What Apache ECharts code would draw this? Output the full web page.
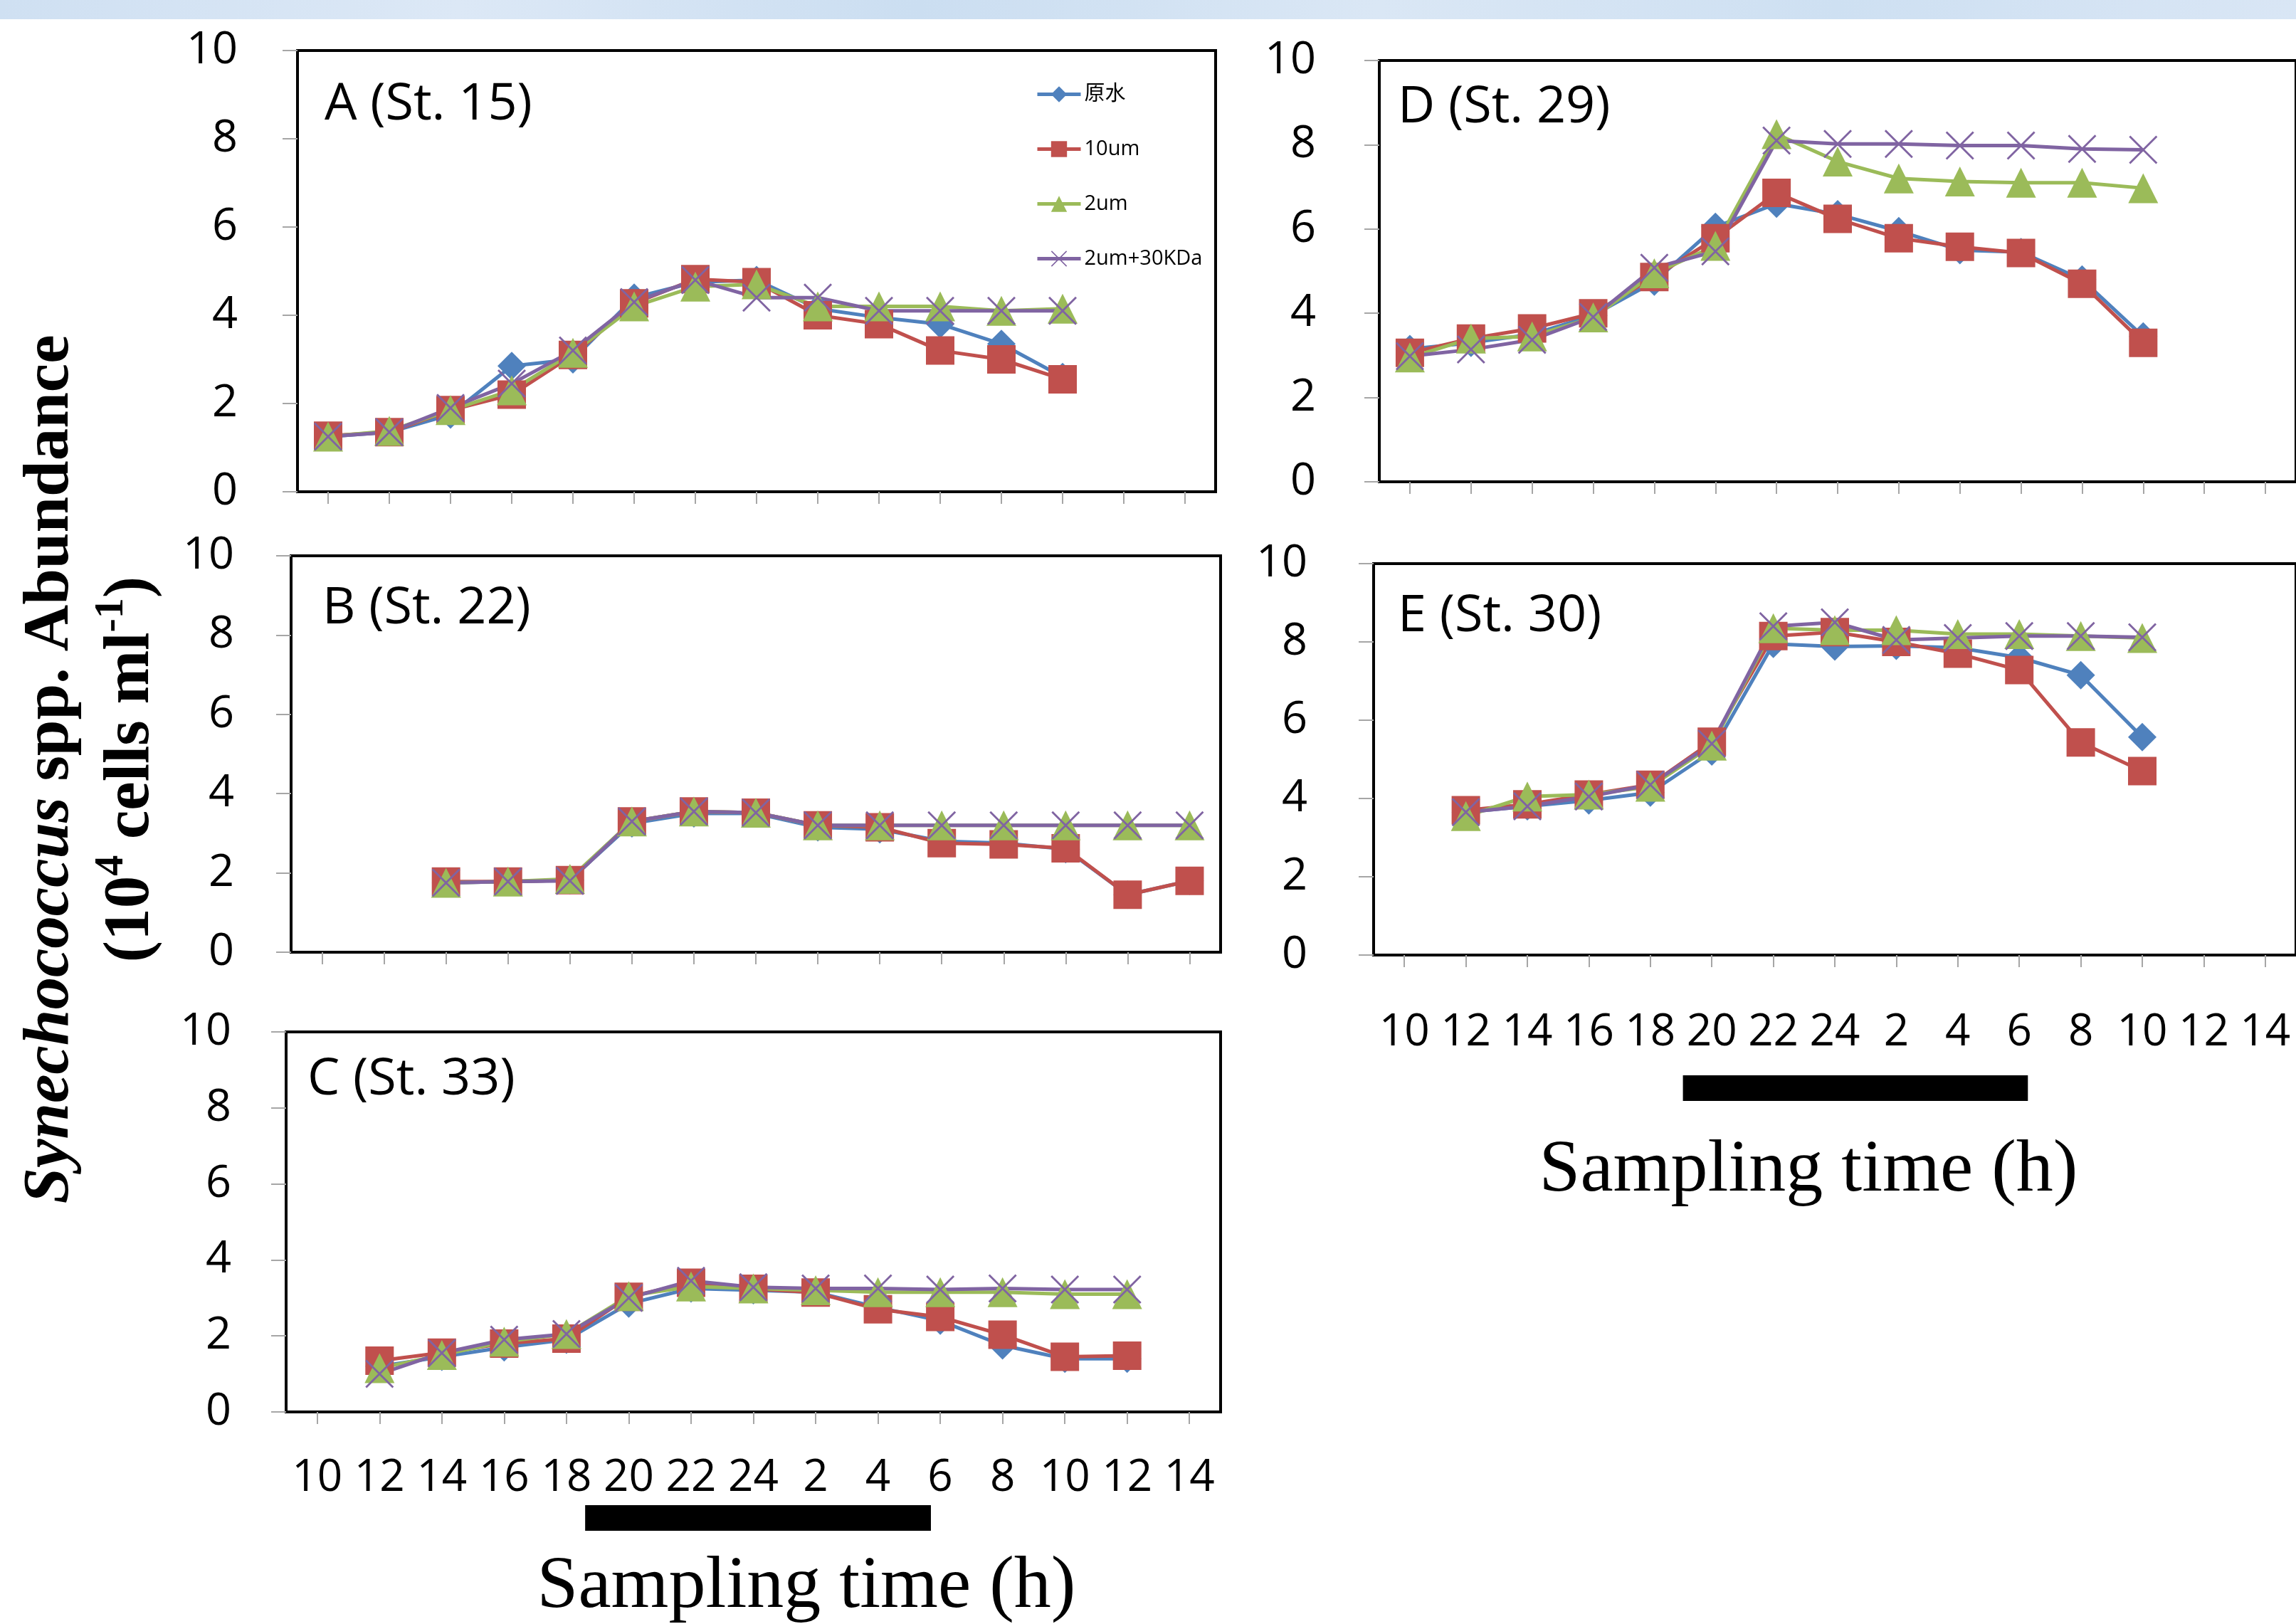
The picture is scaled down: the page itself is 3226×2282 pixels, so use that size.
<!DOCTYPE html>
<html>
<head>
<meta charset="utf-8">
<script src="https://cdn.jsdelivr.net/npm/echarts@6/dist/echarts.min.js"></script>
<style>
html, body { margin: 0; padding: 0; background: #fff; }
#main { width: 3226px; height: 2282px; }
</style>
</head>
<body>
<div id="main"></div>
<script>
// sampling time (h), one category per 2 h
const hours = ['10', '12', '14', '16', '18', '20', '22', '24', '2', '4', '6', '8', '10', '12', '14'];
const yTicks = [0, 2, 4, 6, 8, 10];
const seriesNames = ['原水', '10um', '2um', '2um+30KDa'];

// A (St. 15)
const aRaw = [1.25, 1.35, 1.75, 2.85, 3.0, 4.4, 4.75, 4.8, 4.15, 3.95, 3.8, 3.35, 2.6, null, null];
const a10 = [1.27, 1.35, 1.85, 2.2, 3.1, 4.27, 4.82, 4.75, 4.0, 3.8, 3.2, 3.0, 2.55, null, null];
const a2 = [1.25, 1.38, 1.85, 2.3, 3.15, 4.2, 4.65, 4.7, 4.2, 4.2, 4.2, 4.1, 4.15, null, null];
const a30 = [1.25, 1.35, 1.9, 2.45, 3.2, 4.3, 4.8, 4.4, 4.4, 4.1, 4.1, 4.1, 4.1, null, null];

// B (St. 22)
const bRaw = [null, null, 1.75, 1.78, 1.82, 3.25, 3.5, 3.5, 3.15, 3.1, 2.8, 2.75, 2.6, 1.45, 1.8];
const b10 = [null, null, 1.78, 1.78, 1.82, 3.3, 3.55, 3.52, 3.2, 3.15, 2.75, 2.72, 2.62, 1.45, 1.8];
const b2 = [null, null, 1.75, 1.78, 1.85, 3.3, 3.55, 3.52, 3.2, 3.2, 3.2, 3.2, 3.2, 3.2, 3.2];
const b30 = [null, null, 1.75, 1.78, 1.8, 3.3, 3.55, 3.52, 3.2, 3.2, 3.2, 3.2, 3.2, 3.2, 3.2];

// C (St. 33)
const cRaw = [null, 1.2, 1.45, 1.7, 1.9, 2.85, 3.25, 3.2, 3.15, 2.75, 2.4, 1.75, 1.4, 1.4, null];
const c10 = [null, 1.35, 1.56, 1.8, 1.93, 3.03, 3.4, 3.24, 3.14, 2.7, 2.5, 2.03, 1.45, 1.48, null];
const c2 = [null, 1.15, 1.5, 1.85, 2.05, 3.05, 3.3, 3.25, 3.2, 3.15, 3.15, 3.15, 3.1, 3.1, null];
const c30 = [null, 1.0, 1.55, 1.9, 2.05, 3.0, 3.45, 3.28, 3.25, 3.25, 3.22, 3.25, 3.22, 3.22, null];

// D (St. 29)
const dRaw = [3.15, 3.3, 3.5, 3.95, 4.75, 6.05, 6.6, 6.35, 5.95, 5.5, 5.45, 4.8, 3.45, null, null];
const d10 = [3.06, 3.4, 3.64, 4.0, 4.86, 5.78, 6.86, 6.24, 5.78, 5.58, 5.43, 4.7, 3.3, null, null];
const d2 = [2.95, 3.4, 3.45, 3.9, 4.95, 5.6, 8.25, 7.6, 7.2, 7.13, 7.1, 7.1, 6.97, null, null];
const d30 = [2.98, 3.14, 3.37, 3.91, 5.08, 5.47, 8.1, 8.02, 8.02, 7.98, 7.98, 7.9, 7.88, null, null];

// E (St. 30)
const eRaw = [null, 3.65, 3.8, 3.95, 4.15, 5.2, 7.95, 7.88, 7.9, 7.85, 7.6, 7.15, 5.57, null, null];
const e10 = [null, 3.7, 3.85, 4.1, 4.35, 5.45, 8.15, 8.25, 8.0, 7.7, 7.28, 5.43, 4.7, null, null];
const e2 = [null, 3.55, 4.05, 4.1, 4.3, 5.35, 8.35, 8.3, 8.3, 8.2, 8.2, 8.15, 8.1, null, null];
const e30 = [null, 3.65, 3.8, 4.05, 4.35, 5.4, 8.4, 8.5, 8.05, 8.1, 8.15, 8.15, 8.12, null, null];

// dark period bars, in category units
const nightC = [4.3, 9.85];
const nightE = [4.53, 10.14];

const sans = "'Open Sans', 'Noto Sans', 'Noto Sans CJK SC', sans-serif";
const serif = "'Liberation Serif', 'Times New Roman', serif";

const colors = ['#4F81BD', '#C0504D', '#9BBB59', '#8064A2'];
const symbols = ['diamond', 'rect', 'triangle', 'path://M0,2L2,0L40,38L38,40Z M38,0L40,2L2,40L0,38Z'];
const symbolSizes = [40, 40, 42, 40];

const panels = [
  { title: 'A (St. 15)', grid: { left: 418, top: 71, width: 1290, height: 620 }, yMargin: 84, xLabels: false, titleAt: [456, 147], data: [aRaw, a10, a2, a30] },
  { title: 'B (St. 22)', grid: { left: 409, top: 781, width: 1306, height: 557 }, yMargin: 80, xLabels: false, titleAt: [453, 855], data: [bRaw, b10, b2, b30] },
  { title: 'C (St. 33)', grid: { left: 402, top: 1450, width: 1313, height: 534 }, yMargin: 77, xLabels: true, xMargin: 62, titleAt: [432, 1517], data: [cRaw, c10, c2, c30] },
  { title: 'D (St. 29)', grid: { left: 1938, top: 85, width: 1292, height: 592 }, yMargin: 89, xLabels: false, titleAt: [1964, 151], data: [dRaw, d10, d2, d30] },
  { title: 'E (St. 30)', grid: { left: 1930, top: 792, width: 1305, height: 550 }, yMargin: 93, xLabels: true, xMargin: 78, titleAt: [1964, 866], data: [eRaw, e10, e2, e30] }
];

const chart = echarts.init(document.getElementById('main'), null, { width: 3226, height: 2282 });

const grids = panels.map(p => Object.assign({ show: true, borderColor: '#000', borderWidth: 4, backgroundColor: 'transparent' }, p.grid));

const xAxes = panels.map((p, i) => ({
  type: 'category',
  gridIndex: i,
  data: hours,
  boundaryGap: true,
  axisLine: { show: true, lineStyle: { color: '#000', width: 4 } },
  axisTick: { show: true, alignWithLabel: true, interval: 0, length: 17, lineStyle: { color: '#a6a6a6', width: 2 } },
  axisLabel: { show: p.xLabels, interval: 0, margin: p.xMargin || 8, fontSize: 62, color: '#000', fontFamily: sans },
  splitLine: { show: false }
}));

const yAxes = panels.map((p, i) => ({
  type: 'value',
  gridIndex: i,
  min: yTicks[0],
  max: yTicks[yTicks.length - 1],
  interval: yTicks[1] - yTicks[0],
  axisLine: { show: true, lineStyle: { color: '#000', width: 4 } },
  axisTick: { show: true, length: 21, lineStyle: { color: '#a6a6a6', width: 2 } },
  axisLabel: { margin: p.yMargin, fontSize: 63, color: '#000', fontFamily: sans },
  splitLine: { show: false }
}));

const series = [];
panels.forEach((p, i) => {
  p.data.forEach((vals, j) => {
    series.push({
      name: seriesNames[j],
      type: 'line',
      xAxisIndex: i,
      yAxisIndex: i,
      data: vals,
      symbol: symbols[j],
      symbolSize: symbolSizes[j],
      showAllSymbol: true,
      lineStyle: { color: colors[j], width: 5 },
      itemStyle: { color: colors[j] },
      emphasis: { disabled: true },
      animation: false
    });
  });
});

chart.setOption({
  animation: false,
  backgroundColor: '#fff',
  legend: {
    data: seriesNames,
    orient: 'vertical',
    left: 1455,
    top: 118,
    padding: 0,
    itemWidth: 61,
    itemHeight: 28,
    itemGap: 48,
    lineStyle: { width: 5 },
    textStyle: { fontSize: 29, color: '#000', fontFamily: sans }
  },
  grid: grids,
  xAxis: xAxes,
  yAxis: yAxes,
  series: series
});

// pixel position of a fractional category index
function catX(gridIndex, idx) {
  const p0 = chart.convertToPixel({ gridIndex: gridIndex }, [0, 0]);
  const p1 = chart.convertToPixel({ gridIndex: gridIndex }, [1, 0]);
  return p0[0] + (p1[0] - p0[0]) * idx;
}

const graphics = [
  {
    type: 'rect', left: 0, top: 0, z: -10,
    shape: { width: 3226, height: 27 },
    style: {
      fill: new echarts.graphic.LinearGradient(0, 0, 1, 0, [
        { offset: 0, color: '#cfe0f2' }, { offset: 0.2, color: '#dce8f6' },
        { offset: 0.4, color: '#cbdef1' }, { offset: 0.6, color: '#dae7f5' },
        { offset: 0.8, color: '#cee0f2' }, { offset: 1, color: '#d9e6f5' }
      ])
    }
  },
  {
    type: 'rect',
    shape: { x: catX(2, nightC[0]), y: 2115, width: catX(2, nightC[1]) - catX(2, nightC[0]), height: 36 },
    style: { fill: '#000' }
  },
  {
    type: 'rect',
    shape: { x: catX(4, nightE[0]), y: 1511, width: catX(4, nightE[1]) - catX(4, nightE[0]), height: 36 },
    style: { fill: '#000' }
  },
  {
    type: 'text', x: 1133, y: 2231,
    style: { text: 'Sampling time (h)', fontSize: 104, fontFamily: serif, fill: '#000', align: 'center', verticalAlign: 'middle' }
  },
  {
    type: 'text', x: 2541, y: 1646,
    style: { text: 'Sampling time (h)', fontSize: 104, fontFamily: serif, fill: '#000', align: 'center', verticalAlign: 'middle' }
  },
  {
    type: 'text', x: 128, y: 1081, rotation: Math.PI / 2,
    style: {
      text: '{i|Synechococcus}{b| spp. Abundance}\n{b|(10}{s|4}{b| cells ml}{s|-1}{b|)}',
      align: 'center',
      verticalAlign: 'middle',
      fill: '#000',
      rich: {
        i: { fontFamily: serif, fontStyle: 'italic', fontWeight: 'bold', fontSize: 91, lineHeight: 113 },
        b: { fontFamily: serif, fontWeight: 'bold', fontSize: 91, lineHeight: 113 },
        s: { fontFamily: serif, fontWeight: 'bold', fontSize: 58, lineHeight: 113, verticalAlign: 'top' }
      }
    }
  }
];

panels.forEach(p => {
  graphics.push({
    type: 'text', x: p.titleAt[0], y: p.titleAt[1],
    style: { text: p.title, fontSize: 72, fontFamily: sans, fill: '#000', verticalAlign: 'middle' }
  });
});

chart.setOption({ graphic: graphics });
</script>
</body>
</html>
